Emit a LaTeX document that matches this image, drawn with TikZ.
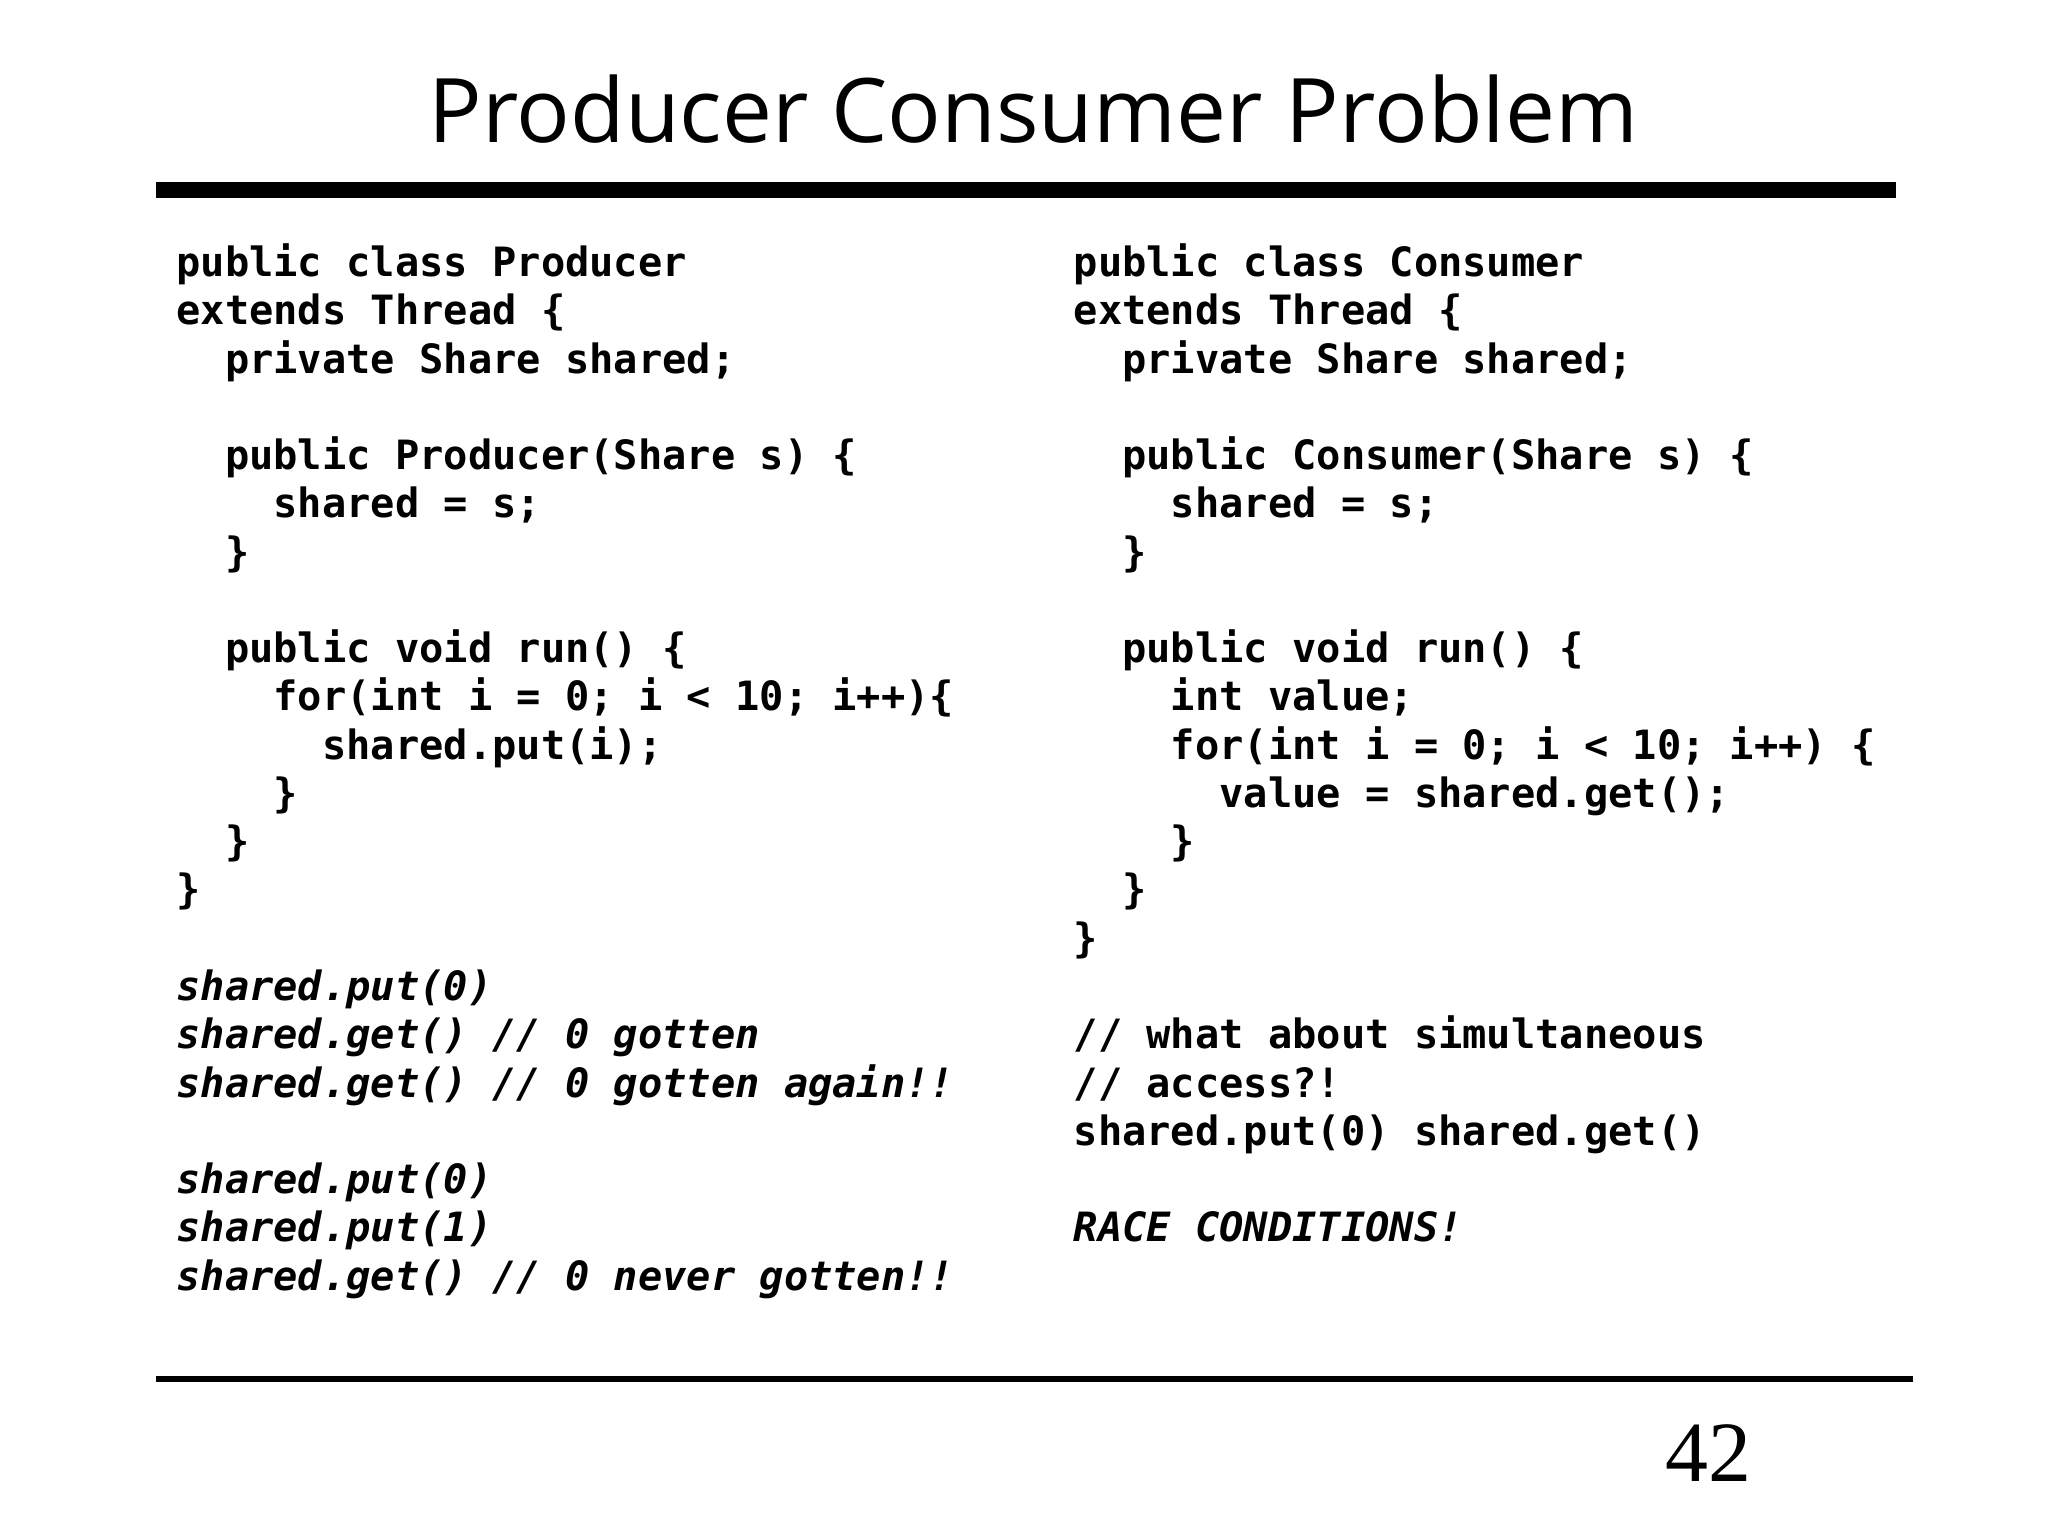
\documentclass[tikz,border=0pt]{standalone}
\usepackage{fontspec}
\setmonofont{DejaVu Sans Mono}
\newfontfamily\titlefont{Open Sans}
\newfontfamily\numfont{Liberation Serif}
\newcommand{\ii}{\phantom{xx}}
\begin{document}
\begin{tikzpicture}[x=0.01cm,y=-0.01cm]
\tikzset{code/.style={align=left,anchor=north west,inner sep=0pt,font=\ttfamily\bfseries\fontsize{8.7pt}{10.4pt}\selectfont}}
\useasboundingbox (0,0) rectangle (1552,1164);
\node[font=\titlefont\fontsize{19.2pt}{23pt}\selectfont] (title) at (783,83) {Producer Consumer Problem};
\draw[line width=3.4pt] (118,144) -- (1437,144);
\draw[line width=1.2pt] (118,1045) -- (1450,1045);
\node[font=\numfont\fontsize{18.5pt}{22pt}\selectfont] (num) at (1295,1101) {42};
\node[code] (left) at (133,184) {public class Producer\\
extends Thread \{\\
\ii private Share shared;\\
\mbox{}\\
\ii public Producer(Share s) \{\\
\ii\ii shared = s;\\
\ii \}\\
\mbox{}\\
\ii public void run() \{\\
\ii\ii for(int i = 0; i < 10; i++)\{\\
\ii\ii\ii shared.put(i);\\
\ii\ii \}\\
\ii \}\\
\}\\
\mbox{}\\
{\itshape shared.put(0)}\\
{\itshape shared.get() // 0 gotten}\\
{\itshape shared.get() // 0 gotten again!!}\\
\mbox{}\\
{\itshape shared.put(0)}\\
{\itshape shared.put(1)}\\
{\itshape shared.get() // 0 never gotten!!}};
\node[code] (right) at (813,184) {public class Consumer\\
extends Thread \{\\
\ii private Share shared;\\
\mbox{}\\
\ii public Consumer(Share s) \{\\
\ii\ii shared = s;\\
\ii \}\\
\mbox{}\\
\ii public void run() \{\\
\ii\ii int value;\\
\ii\ii for(int i = 0; i < 10; i++) \{\\
\ii\ii\ii value = shared.get();\\
\ii\ii \}\\
\ii \}\\
\}\\
\mbox{}\\
// what about simultaneous\\
// access?!\\
shared.put(0) shared.get()\\
\mbox{}\\
{\itshape RACE CONDITIONS!}};
\end{tikzpicture}
\end{document}
